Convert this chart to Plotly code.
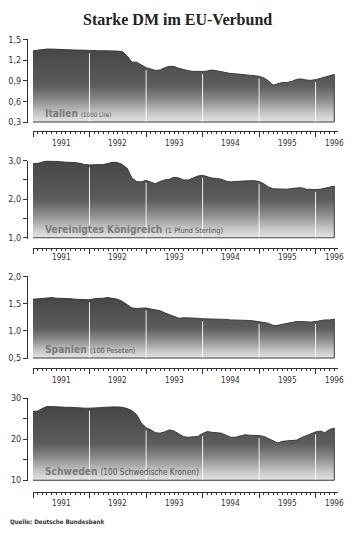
import pandas as pd
import plotly.graph_objects as go

TITLE = "Starke DM im EU-Verbund"
SOURCE = "Quelle: Deutsche Bundesbank"

MONTHS = pd.date_range("1991-01-01", periods=65, freq="MS")
YEAR_LABELS = ["1991", "1992", "1993", "1994", "1995", "1996"]
YEAR_LABEL_DATES = ["1991-07-01", "1992-07-01", "1993-07-01", "1994-07-01", "1995-07-01", "1996-05-01"]
YEAR_BOUNDS = ["1992-01-01", "1993-01-01", "1994-01-01", "1995-01-01", "1996-01-01"]

ITALIEN = [1.335, 1.345, 1.355, 1.36, 1.36, 1.355, 1.355, 1.35, 1.35, 1.345, 1.345, 1.34,
           1.335, 1.335, 1.335, 1.335, 1.335, 1.33, 1.33, 1.32, 1.26, 1.17, 1.17, 1.13,
           1.09, 1.07, 1.05, 1.055, 1.09, 1.11, 1.105, 1.08, 1.06, 1.045, 1.035, 1.03,
           1.035, 1.04, 1.055, 1.045, 1.03, 1.015, 1.005, 1.0, 0.995, 0.99, 0.98, 0.975,
           0.965, 0.94, 0.90, 0.835, 0.86, 0.875, 0.875, 0.89, 0.92, 0.925, 0.91, 0.905,
           0.915, 0.935, 0.95, 0.97, 0.99]

GROSSBRITANNIEN = [2.92, 2.93, 2.96, 3.0, 2.99, 2.97, 2.97, 2.96, 2.96, 2.95, 2.93, 2.90,
                   2.89, 2.89, 2.90, 2.90, 2.93, 2.96, 2.95, 2.90, 2.80, 2.55, 2.46, 2.45,
                   2.49, 2.44, 2.40, 2.46, 2.50, 2.52, 2.57, 2.55, 2.50, 2.50, 2.56, 2.60,
                   2.62, 2.58, 2.55, 2.54, 2.52, 2.47, 2.45, 2.46, 2.47, 2.47, 2.48, 2.48,
                   2.46, 2.40, 2.32, 2.27, 2.27, 2.27, 2.26, 2.28, 2.30, 2.30, 2.26, 2.25,
                   2.25, 2.26, 2.28, 2.30, 2.34]

SPANIEN = [1.58, 1.59, 1.60, 1.61, 1.61, 1.60, 1.60, 1.59, 1.59, 1.58, 1.58, 1.57,
           1.57, 1.59, 1.59, 1.60, 1.61, 1.60, 1.58, 1.54, 1.48, 1.42, 1.41, 1.41,
           1.42, 1.40, 1.39, 1.37, 1.33, 1.30, 1.26, 1.23, 1.24, 1.24, 1.23, 1.23,
           1.22, 1.22, 1.22, 1.21, 1.21, 1.21, 1.20, 1.20, 1.20, 1.19, 1.19, 1.18,
           1.17, 1.155, 1.14, 1.10, 1.10, 1.12, 1.14, 1.16, 1.17, 1.17, 1.16, 1.16,
           1.17, 1.19, 1.20, 1.20, 1.215]

SCHWEDEN = [26.8, 26.9, 27.5, 28.0, 28.0, 27.9, 27.9, 27.8, 27.8, 27.7, 27.6, 27.6,
            27.6, 27.6, 27.7, 27.8, 27.9, 27.9, 27.9, 27.8, 27.5, 27.0, 26.0, 24.0,
            22.8, 22.3, 21.6, 21.5, 21.8, 22.3, 22.0, 21.2, 20.6, 20.5, 20.6, 20.7,
            21.4, 21.9, 21.7, 21.6, 21.5, 21.0, 20.5, 20.5, 20.9, 21.1, 21.0, 21.0,
            20.9, 20.7, 20.2, 19.5, 19.1, 19.5, 19.6, 19.6, 19.8, 20.4, 20.9, 21.3,
            21.8, 22.0, 21.6, 22.4, 22.7]

PANELS = [
    dict(name="Italien", unit="(1000 Lire)", values=ITALIEN, rng=(0.3, 1.5),
         tickvals=[0.3, 0.6, 0.9, 1.2, 1.5], ticktext=["0,3", "0,6", "0,9", "1,2", "1,5"]),
    dict(name="Vereinigtes Königreich", unit="(1 Pfund Sterling)", values=GROSSBRITANNIEN, rng=(1.0, 3.0),
         tickvals=[1.0, 1.5, 2.0, 2.5, 3.0], ticktext=["1,0", "", "2,0", "", "3,0"]),
    dict(name="Spanien", unit="(100 Peseten)", values=SPANIEN, rng=(0.5, 2.0),
         tickvals=[0.5, 1.0, 1.5, 2.0], ticktext=["0,5", "1,0", "1,5", "2,0"]),
    dict(name="Schweden", unit="(100 Schwedische Kronen)", values=SCHWEDEN, rng=(10, 30),
         tickvals=[10, 15, 20, 25, 30], ticktext=["10", "", "20", "", "30"]),
]

# ---- layout geometry (pixels) ----
W, H = 358, 540
PLOT_TOP = [35, 158.3, 276, 400]
PLOT_BOT = [120, 237.7, 360, 484.3]
XAXIS_Y = [128.3, 247, 369, 495]
YEAR_LBL_Y = [140, 256, 381, 506.7]
UNIT_SIZES = [6.2, 7.3, 7.3, 8.2]
NARROW = "DejaVu Sans Condensed, DejaVu Sans, sans-serif"
INK = "#333333"
GRAD = [[0.0, "#e4e4e4"], [0.12, "#c6c6c6"], [0.3, "#8c8c8c"], [0.5, "#5c5c5c"], [1.0, "#464646"]]


def py(px):
    return 1 - px / H


fig = go.Figure()
annotations = []
layout_axes = {}

for i, p in enumerate(PANELS):
    k = "" if i == 0 else str(i + 1)
    xa, ya = "x" + k, "y" + k
    ymin, ymax = p["rng"]
    span = ymax - ymin
    vals = p["values"]
    months = list(MONTHS)

    fig.add_trace(go.Scatter(
        x=months + [months[-1], months[0]],
        y=vals + [ymin, ymin],
        fill="toself", mode="lines",
        line=dict(color="#3a3a3a", width=1),
        fillgradient=dict(type="vertical", colorscale=GRAD),
        xaxis=xa, yaxis=ya, hoverinfo="skip", showlegend=False,
    ))

    for d in YEAR_BOUNDS:
        idx = months.index(pd.Timestamp(d))
        fig.add_trace(go.Scatter(
            x=[d, d], y=[ymin + 0.005 * span, vals[idx] - 0.03 * span],
            mode="lines", line=dict(color="rgba(255,255,255,0.9)", width=1),
            xaxis=xa, yaxis=ya, hoverinfo="skip", showlegend=False,
        ))

    layout_axes["xaxis" + k] = dict(
        domain=[33 / W, 338 / W], anchor="free", position=py(XAXIS_Y[i]),
        type="date", range=["1991-01-01", "1996-05-25"],
        showline=True, linecolor=INK, linewidth=1,
        tick0="1991-01-01", dtick="M12", ticks="outside", ticklen=5, tickcolor=INK,
        showticklabels=False, showgrid=False, zeroline=False,
        minor=dict(dtick="M1", tick0="1991-01-01", ticks="outside", ticklen=2,
                   tickcolor=INK, showgrid=False),
        fixedrange=True,
    )
    layout_axes["yaxis" + k] = dict(
        domain=[py(PLOT_BOT[i]), py(PLOT_TOP[i])], anchor="free", position=27 / W,
        range=[ymin - 0.012 * span, ymax],
        tickmode="array", tickvals=p["tickvals"], ticktext=p["ticktext"],
        ticks="outside", ticklen=4, tickcolor=INK,
        showline=True, linecolor=INK, linewidth=1,
        showgrid=False, zeroline=False,
        tickfont=dict(family=NARROW, size=9, color=INK),
        fixedrange=True,
    )

    for lbl, d in zip(YEAR_LABELS, YEAR_LABEL_DATES):
        annotations.append(dict(
            x=d, xref=xa, y=py(YEAR_LBL_Y[i]), yref="paper", text=lbl,
            showarrow=False, xanchor="center", yanchor="middle",
            font=dict(family=NARROW, size=8.2, color=INK),
        ))

    annotations.append(dict(
        x=43 / W, xref="paper", y=py(PLOT_BOT[i] - 9.5), yref="paper",
        text=f"<b>{p['name']}</b> <span style='font-size:{UNIT_SIZES[i]}px;color:#555555'>{p['unit']}</span>",
        showarrow=False, xanchor="left", yanchor="middle",
        font=dict(family=NARROW, size=10.2, color="#7a7a7a"),
    ))

annotations.append(dict(
    x=177 / W, xref="paper", y=py(15), yref="paper", text=f"<b>{TITLE}</b>",
    showarrow=False, xanchor="center", yanchor="middle",
    font=dict(family="Liberation Serif, Times New Roman, serif", size=16, color="#222222"),
))
annotations.append(dict(
    x=8 / W, xref="paper", y=py(525), yref="paper", text=f"<b>{SOURCE}</b>",
    showarrow=False, xanchor="left", yanchor="middle",
    font=dict(family=NARROW, size=6.2, color=INK),
))

fig.update_layout(
    width=W, height=H, margin=dict(l=0, r=0, t=0, b=0),
    paper_bgcolor="white", plot_bgcolor="rgba(0,0,0,0)",
    showlegend=False, annotations=annotations, **layout_axes,
)

fig.write_html("out.html")
